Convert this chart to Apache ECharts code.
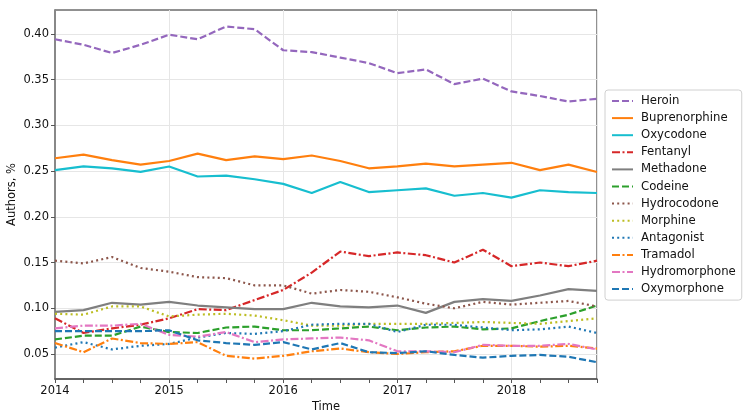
<!DOCTYPE html>
<html>
<head>
<meta charset="utf-8">
<script src="https://cdn.jsdelivr.net/npm/echarts@6/dist/echarts.min.js"></script>
<style>
  html, body { margin: 0; padding: 0; background: #fff; }
  #chart { width: 748px; height: 420px; }
</style>
</head>
<body>
<div id="chart"></div>
<script>
// quarterly points, 2014 Q1 .. 2018 Q4
const quarters = Array.from({ length: 20 }, (_, i) => 2014 + i * 0.25)

const heroin = [0.394, 0.388, 0.379, 0.388, 0.399, 0.394, 0.408, 0.405, 0.382, 0.380,
  0.374, 0.368, 0.357, 0.361, 0.345, 0.351, 0.337, 0.332, 0.326, 0.329]
const buprenorphine = [0.264, 0.268, 0.262, 0.257, 0.261, 0.269, 0.262, 0.266, 0.263, 0.267,
  0.261, 0.253, 0.255, 0.258, 0.255, 0.257, 0.259, 0.251, 0.257, 0.249]
const oxycodone = [0.251, 0.255, 0.253, 0.249, 0.255, 0.244, 0.245, 0.241, 0.236, 0.226,
  0.238, 0.227, 0.229, 0.231, 0.223, 0.226, 0.221, 0.229, 0.227, 0.226]
const fentanyl = [0.089, 0.073, 0.078, 0.082, 0.089, 0.099, 0.098, 0.109, 0.120, 0.139,
  0.162, 0.157, 0.161, 0.158, 0.150, 0.164, 0.146, 0.150, 0.146, 0.152]
const methadone = [0.096, 0.098, 0.106, 0.104, 0.107, 0.103, 0.101, 0.099, 0.099, 0.106,
  0.102, 0.101, 0.103, 0.095, 0.107, 0.110, 0.108, 0.114, 0.121, 0.119]
const codeine = [0.066, 0.070, 0.070, 0.080, 0.074, 0.073, 0.079, 0.080, 0.076, 0.076,
  0.078, 0.080, 0.076, 0.079, 0.080, 0.077, 0.078, 0.086, 0.093, 0.103]
const hydrocodone = [0.152, 0.149, 0.156, 0.144, 0.140, 0.134, 0.133, 0.125, 0.125, 0.116,
  0.120, 0.118, 0.112, 0.105, 0.100, 0.107, 0.104, 0.106, 0.108, 0.102]
const morphine = [0.094, 0.093, 0.102, 0.102, 0.091, 0.093, 0.094, 0.092, 0.087, 0.081,
  0.081, 0.083, 0.083, 0.083, 0.084, 0.085, 0.084, 0.083, 0.086, 0.089]
const antagonist = [0.057, 0.063, 0.055, 0.059, 0.061, 0.068, 0.073, 0.072, 0.075, 0.082,
  0.083, 0.083, 0.074, 0.082, 0.082, 0.079, 0.076, 0.077, 0.080, 0.073]
const tramadol = [0.062, 0.052, 0.067, 0.062, 0.061, 0.063, 0.048, 0.045, 0.048, 0.053,
  0.056, 0.052, 0.050, 0.052, 0.053, 0.059, 0.059, 0.058, 0.059, 0.056]
const hydromorphone = [0.078, 0.081, 0.081, 0.083, 0.071, 0.069, 0.074, 0.063, 0.066, 0.067,
  0.068, 0.065, 0.053, 0.053, 0.052, 0.060, 0.059, 0.059, 0.061, 0.055]
const oxymorphone = [0.075, 0.075, 0.075, 0.075, 0.076, 0.065, 0.062, 0.060, 0.063, 0.055,
  0.062, 0.052, 0.051, 0.053, 0.049, 0.046, 0.048, 0.049, 0.047, 0.041]

const yearTicks = [2014, 2015, 2016, 2017, 2018]
const yTicks = [0.05, 0.10, 0.15, 0.20, 0.25, 0.30, 0.35, 0.40]

const DASH = [7, 3]
const DOT = [2, 3.2]
const DASHDOT = [8, 2.5, 2, 2.5]

const lines = [
  { name: 'Heroin', data: heroin, color: '#9467bd', type: DASH },
  { name: 'Buprenorphine', data: buprenorphine, color: '#ff7f0e', type: 'solid' },
  { name: 'Oxycodone', data: oxycodone, color: '#17becf', type: 'solid' },
  { name: 'Fentanyl', data: fentanyl, color: '#d62728', type: DASHDOT },
  { name: 'Methadone', data: methadone, color: '#7f7f7f', type: 'solid' },
  { name: 'Codeine', data: codeine, color: '#2ca02c', type: DASH },
  { name: 'Hydrocodone', data: hydrocodone, color: '#8c564b', type: DOT },
  { name: 'Morphine', data: morphine, color: '#bcbd22', type: DOT },
  { name: 'Antagonist', data: antagonist, color: '#1f77b4', type: DOT },
  { name: 'Tramadol', data: tramadol, color: '#ff7f0e', type: DASHDOT },
  { name: 'Hydromorphone', data: hydromorphone, color: '#e377c2', type: DASHDOT },
  { name: 'Oxymorphone', data: oxymorphone, color: '#1f77b4', type: DASH },
]

const font = 'DejaVu Sans'
const fs = 11.5

const chart = echarts.init(document.getElementById('chart'), null, {
  width: 748,
  height: 420
})

chart.setOption({
  animation: false,
  textStyle: { fontFamily: font },
  grid: {
    left: 55,
    right: 151,
    top: 10,
    bottom: 41,
    outerBoundsMode: 'none',
    containLabel: false,
    show: true,
    borderColor: '#222',
    borderWidth: 1,
  },
  legend: {
    orient: 'vertical',
    left: 605,
    top: 90,
    itemWidth: 21,
    itemHeight: 10,
    itemGap: 5.1,
    padding: [5, 6, 5, 6],
    backgroundColor: '#fff',
    borderColor: '#d0d0d0',
    borderWidth: 1,
    borderRadius: 3,
    itemStyle: { opacity: 0 },
    textStyle: { fontFamily: font, fontSize: 11.7, color: '#111', padding: [0, 0, 0, 3] },
    data: lines.map(l => l.name)
  },
  xAxis: {
    type: 'value',
    min: 2014,
    max: 2018.75,
    interval: 1,
    name: 'Time',
    nameLocation: 'middle',
    nameGap: 22,
    nameMoveOverlap: false,
    nameTextStyle: { fontFamily: font, fontSize: fs, color: '#111' },
    axisLine: { show: true, onZero: false, lineStyle: { color: '#555', width: 1.5 } },
    axisTick: { show: true, length: 4, lineStyle: { color: '#555' } },
    minorTick: { show: true, splitNumber: 4, length: 4, lineStyle: { color: '#555' } },
    axisLabel: {
      fontFamily: font, fontSize: fs, color: '#111', margin: 6,
      showMaxLabel: false,
      formatter: v => yearTicks.includes(v) ? String(v) : ''
    },
    splitLine: { show: true, lineStyle: { color: '#e6e6e6', width: 1 } },
  },
  yAxis: {
    type: 'value',
    min: 0.0227,
    max: 0.426,
    name: 'Authors, %',
    nameLocation: 'middle',
    nameGap: 37,
    nameMoveOverlap: false,
    nameTextStyle: { fontFamily: font, fontSize: fs, color: '#111' },
    axisLine: { show: true, lineStyle: { color: '#888', width: 2 } },
    axisTick: { show: true, length: 4, customValues: yTicks, lineStyle: { color: '#555' } },
    axisLabel: {
      fontFamily: font, fontSize: fs, color: '#111', margin: 6,
      customValues: yTicks,
      formatter: v => v.toFixed(2)
    },
    splitLine: { show: true, lineStyle: { color: '#e6e6e6', width: 1 } },
  },
  series: lines.map(l => ({
    name: l.name,
    type: 'line',
    symbol: 'none',
    data: quarters.map((q, i) => [q, l.data[i]]),
    itemStyle: { color: l.color },
    lineStyle: { color: l.color, width: 2.2, type: l.type },
  }))
}, true)
</script>
</body>
</html>
